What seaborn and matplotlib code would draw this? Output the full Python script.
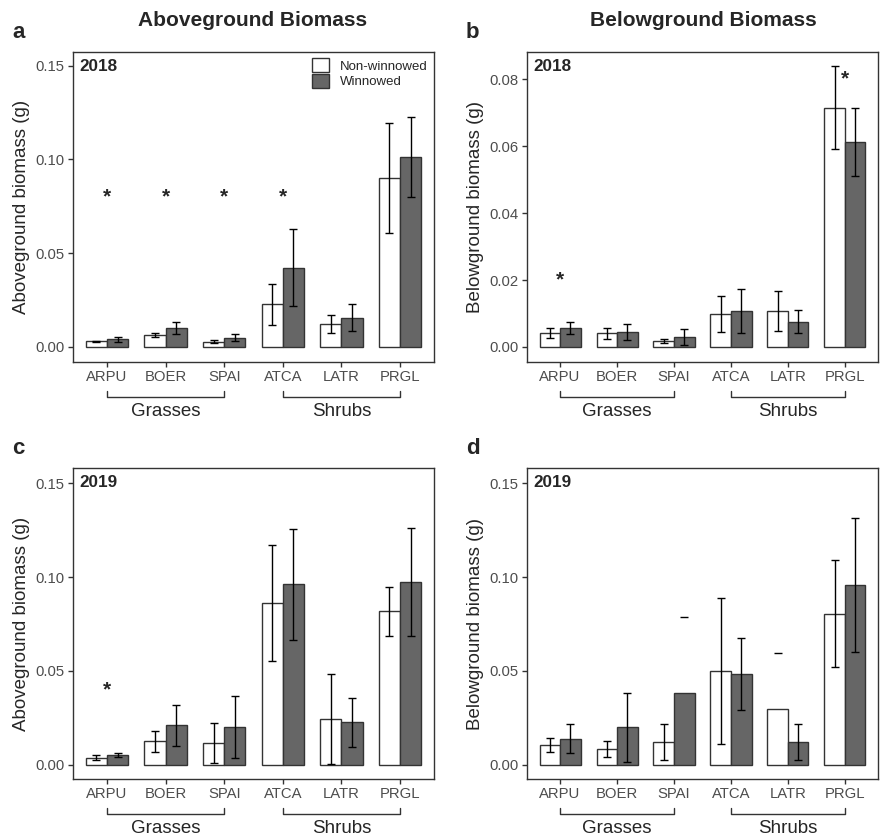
import numpy as np
import pandas as pd
import seaborn as sns
import matplotlib.pyplot as plt
import matplotlib.transforms as mtransforms
from matplotlib.patches import Patch

nan = np.nan

# Categories
species = ["ARPU", "BOER", "SPAI", "ATCA", "LATR", "PRGL"]
treatments = ["Non-winnowed", "Winnowed"]
group_names = ["Grasses", "Shrubs"]
group_members = [["ARPU", "SPAI"], ["ATCA", "PRGL"]]

# a: aboveground 2018 (mean, se)
ag18_nw = [0.0030, 0.0064, 0.0027, 0.0227, 0.0123, 0.0901]
ag18_nw_se = [0.0004, 0.0010, 0.0008, 0.0110, 0.0049, 0.0292]
ag18_w = [0.0041, 0.0100, 0.0050, 0.0423, 0.0156, 0.1013]
ag18_w_se = [0.0013, 0.0032, 0.0018, 0.0204, 0.0073, 0.0212]
ag18_star = [0.0817, 0.0817, 0.0817, 0.0817, nan, nan]

# b: belowground 2018
bg18_nw = [0.0041, 0.0041, 0.0018, 0.0099, 0.0108, 0.0715]
bg18_nw_se = [0.0015, 0.0017, 0.0005, 0.0053, 0.0059, 0.0123]
bg18_w = [0.0056, 0.0045, 0.0030, 0.0108, 0.0076, 0.0613]
bg18_w_se = [0.0018, 0.0024, 0.0023, 0.0066, 0.0034, 0.0102]
bg18_star = [0.0210, nan, nan, nan, nan, 0.0812]

# c: aboveground 2019
ag19_nw = [0.0037, 0.0124, 0.0116, 0.0862, 0.0243, 0.0817]
ag19_nw_se = [0.0013, 0.0058, 0.0106, 0.0309, 0.0240, 0.0131]
ag19_w = [0.0050, 0.0210, 0.0201, 0.0961, 0.0226, 0.0974]
ag19_w_se = [0.0011, 0.0108, 0.0166, 0.0295, 0.0130, 0.0288]
ag19_star = [0.0419, nan, nan, nan, nan, nan]

# d: belowground 2019 (two bars only have a lone cap)
bg19_nw = [0.0103, 0.0082, 0.0119, 0.0501, 0.0297, 0.0805]
bg19_nw_se = [0.0037, 0.0043, 0.0096, 0.0388, nan, 0.0286]
bg19_w = [0.0139, 0.0199, 0.0382, 0.0485, 0.0121, 0.0958]
bg19_w_se = [0.0079, 0.0182, nan, 0.0192, 0.0097, 0.0357]
bg19_nw_cap = [nan, nan, nan, nan, 0.0595, nan]
bg19_w_cap = [nan, nan, 0.0786, nan, nan, nan]
bg19_star = [nan] * 6

sns.set_style("ticks")
plt.rcParams["font.family"] = ["Liberation Sans", "DejaVu Sans"]

fig = plt.figure(figsize=(8.9, 8.38), dpi=100)
W, H = 890, 838


def px_axes(left, top, right, bottom):
    return fig.add_axes([left / W, 1 - bottom / H, (right - left) / W, (bottom - top) / H])


ax_a = px_axes(73, 52, 434, 362)
ax_b = px_axes(527, 52, 878, 362)
ax_c = px_axes(73, 468, 434, 779)
ax_d = px_axes(527, 468, 878, 779)

edge = "#333333"
dark = "#666666"
CAP = 2.8


def draw_panel(ax, nw, nw_se, w, w_se, stars, ylabel, year, ylim, yticks,
               nw_cap=None, w_cap=None):
    df = pd.DataFrame({
        "species": species * 2,
        "treatment": np.repeat(treatments, len(species)),
        "biomass": nw + w,
    })
    sns.barplot(data=df, x="species", y="biomass", hue="treatment",
                order=species, hue_order=treatments,
                palette=["white", dark], saturation=1, width=0.72,
                edgecolor=edge, linewidth=1, errorbar=None, legend=False, ax=ax)

    for cont, se, cap in zip(ax.containers, [nw_se, w_se], [nw_cap, w_cap]):
        xs = [b.get_x() + b.get_width() / 2 for b in cont]
        hs = [b.get_height() for b in cont]
        ax.errorbar(xs, hs, yerr=se, fmt="none", ecolor="black",
                    elinewidth=1, capsize=CAP, capthick=1, zorder=5)
        if cap is not None:
            ax.plot(xs, cap, ls="none", marker="_", markersize=2 * CAP,
                    mew=1, color="black", zorder=5)

    for i, s in enumerate(stars):
        if not np.isnan(s):
            ax.annotate("*", xy=(i, s), xytext=(0, -6.5), textcoords="offset points",
                        ha="center", va="baseline", fontsize=15, fontweight="bold")

    ax.set_xlim(-0.58, 5.58)
    ax.set_ylim(*ylim)
    ax.set_yticks(yticks)
    ax.set_yticklabels([f"{t:.2f}" for t in yticks])
    ax.set_xlabel("")
    ax.set_ylabel(ylabel, fontsize=13.5, labelpad=4)
    for sp in ax.spines.values():
        sp.set_visible(True)
        sp.set_color(edge)
        sp.set_linewidth(1)
    ax.tick_params(axis="both", length=3.6, width=1, color=edge,
                   labelcolor="#4D4D4D", labelsize=10.7, pad=2.5)

    ax.text(0.019, 0.952, year, transform=ax.transAxes, ha="left", va="center",
            fontsize=12.3, fontweight="bold")

    # group brackets under the x axis
    trans = mtransforms.blended_transform_factory(ax.transData, ax.transAxes)
    h = ax.bbox.height
    y_line = -35 / h
    y_end = -29 / h
    y_txt = -49 / h
    for name, (s0, s1) in zip(group_names, group_members):
        x0, x1 = species.index(s0), species.index(s1)
        ax.plot([x0, x0, x1, x1], [y_end, y_line, y_line, y_end], transform=trans,
                color=edge, lw=1, clip_on=False)
        ax.text((x0 + x1) / 2, y_txt, name, transform=trans, ha="center",
                va="center", fontsize=13.5)


draw_panel(ax_a, ag18_nw, ag18_nw_se, ag18_w, ag18_w_se, ag18_star,
           "Aboveground biomass (g)", "2018", (-0.0080, 0.1573), [0.0, 0.05, 0.10, 0.15])
draw_panel(ax_b, bg18_nw, bg18_nw_se, bg18_w, bg18_w_se, bg18_star,
           "Belowground biomass (g)", "2018", (-0.00448, 0.0881), [0.0, 0.02, 0.04, 0.06, 0.08])
draw_panel(ax_c, ag19_nw, ag19_nw_se, ag19_w, ag19_w_se, ag19_star,
           "Aboveground biomass (g)", "2019", (-0.0076, 0.1582), [0.0, 0.05, 0.10, 0.15])
draw_panel(ax_d, bg19_nw, bg19_nw_se, bg19_w, bg19_w_se, bg19_star,
           "Belowground biomass (g)", "2019", (-0.0076, 0.1582), [0.0, 0.05, 0.10, 0.15],
           nw_cap=bg19_nw_cap, w_cap=bg19_w_cap)

handles = [Patch(facecolor="white", edgecolor=edge, lw=1),
           Patch(facecolor=dark, edgecolor=edge, lw=1)]
ax_a.legend(handles, treatments, loc="upper left", bbox_to_anchor=(0.662, 0.981),
            frameon=False, fontsize=9.5, handlelength=1.29, handleheight=1.3,
            labelspacing=0.1, handletextpad=0.85, borderpad=0, borderaxespad=0)

fig.text(253 / W, 1 - 20 / H, "Aboveground Biomass", ha="center", va="center",
         fontsize=15, fontweight="bold")
fig.text(703 / W, 1 - 20 / H, "Belowground Biomass", ha="center", va="center",
         fontsize=15, fontweight="bold")
for letter, x, y in [("a", 12, 33), ("b", 466, 33), ("c", 12, 448), ("d", 466, 448)]:
    fig.text(x / W, 1 - y / H, letter, ha="left", va="center", fontsize=16,
             fontweight="bold")

fig.savefig("out.png", dpi=100)
